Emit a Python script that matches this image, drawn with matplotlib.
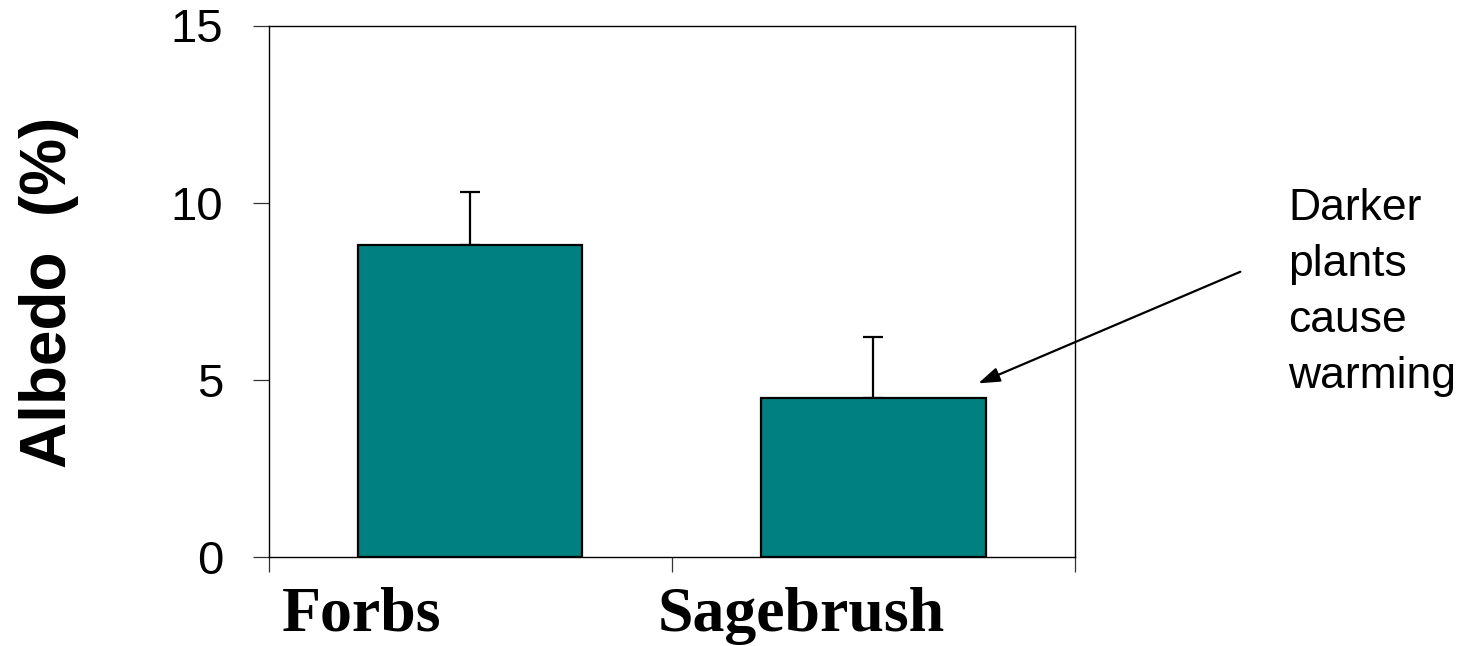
import numpy as np
import matplotlib
matplotlib.use("Agg")
import matplotlib.pyplot as plt

# datos
categorias = ["Forbs", "Sagebrush"]
albedo = [8.8, 4.5]
error_sup = [1.5, 1.7]
y_ticks = [0, 5, 10, 15]
nota = "Darker\nplants\ncause\nwarming"

W, H = 1480, 646
fig = plt.figure(figsize=(W / 100, H / 100), dpi=100)
ax = fig.add_axes([268.5 / W, 1 - 557 / H, (1075 - 268.5) / W, (557 - 25.5) / H])

x = np.arange(len(categorias)) + 0.5
ax.bar(x, albedo, width=0.557, color="#008080", edgecolor="black", linewidth=1.6, zorder=2)
ax.errorbar(x, albedo, yerr=[np.zeros(len(albedo)), error_sup], fmt="none",
            ecolor="black", elinewidth=1.6, capsize=7.5, capthick=1.6, zorder=1)

ax.set_xlim(0, 2)
ax.set_ylim(0, 15)
ax.set_xticks([0, 1, 2])
ax.set_xticklabels([])
ax.set_yticks(y_ticks)
ax.tick_params(axis="y", direction="out", length=11.5, width=0.9, pad=21, color="#333333",
               labelsize=34, labelfontfamily="Liberation Sans")
ax.tick_params(axis="x", direction="out", length=11, width=0.9, color="#333333")
for s in ax.spines.values():
    s.set_linewidth(1.0)

# etiquetas de categoria (no centradas en las barras en el original)
pos_etiquetas = [0.232, 1.32]
for xp, lab in zip(pos_etiquetas, categorias):
    ax.text(xp, -0.056, lab, transform=ax.get_xaxis_transform(), ha="center", va="top",
            fontsize=46, fontweight="bold", family="Liberation Serif")

fig.text(49 / W, 1 - 292.5 / H, "Albedo  (%)", rotation=90, ha="center", va="center",
         fontsize=46, fontweight="bold", family="Liberation Sans")

# flecha y nota
ax.annotate("", xy=(1.76, 4.9), xytext=(2.41, 8.05), xycoords="data", textcoords="data",
            annotation_clip=False,
            arrowprops=dict(arrowstyle="-|>,head_length=0.65,head_width=0.22",
                            mutation_scale=20, color="black", lw=1.6,
                            shrinkA=0, shrinkB=0))
fig.text(1288 / W, 1 - 188 / H, nota, ha="left", va="top", fontsize=32,
         family="Liberation Sans", linespacing=1.47)

fig.savefig("out.png", dpi=100)
